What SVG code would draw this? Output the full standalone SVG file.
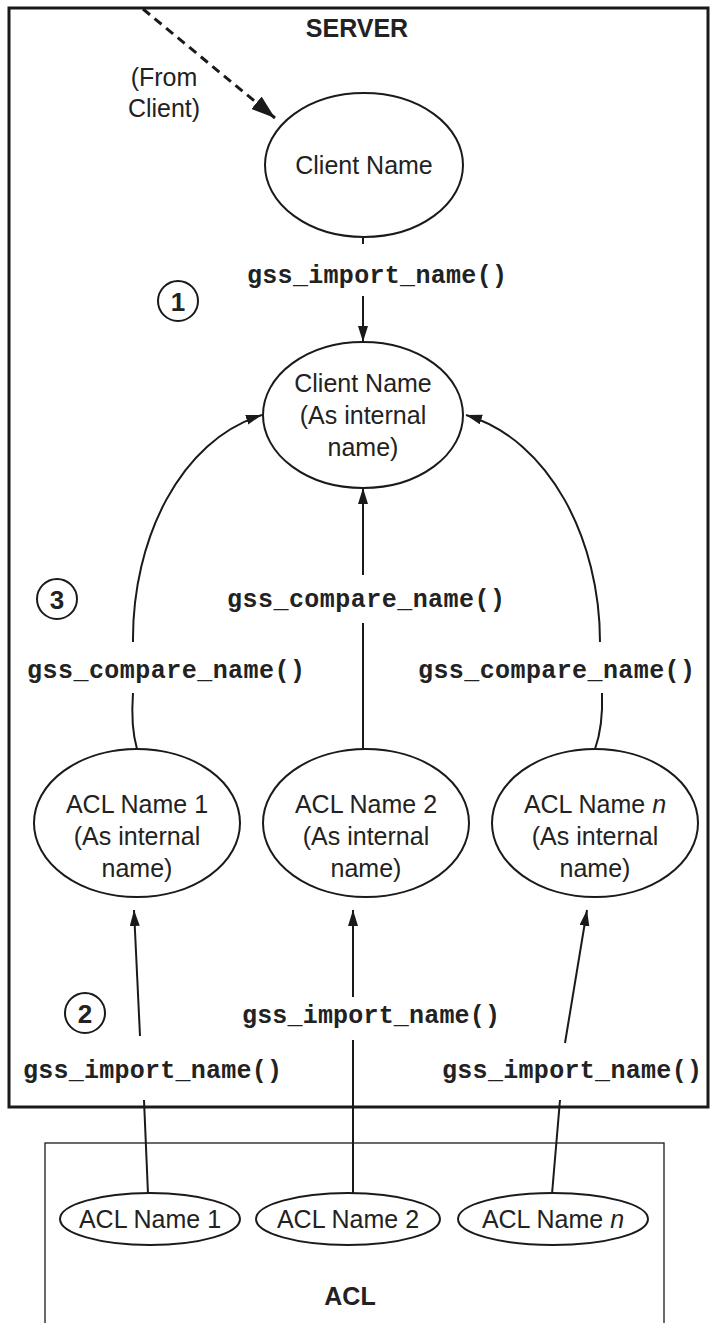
<svg xmlns="http://www.w3.org/2000/svg" width="711" height="1323" viewBox="0 0 711 1323">
<defs>
<style>
.t{font-family:"Liberation Sans",Arial,sans-serif;font-size:25px;fill:#222;text-anchor:middle}
.b{font-weight:bold}
.m{font-family:"Liberation Mono","Courier New",monospace;font-size:25px;font-weight:bold;fill:#222}
.n{fill:#fff;stroke:#1a1a1a;stroke-width:2}
.c{fill:none;stroke:#1a1a1a;stroke-width:2}
.d{font-family:"Liberation Sans",Arial,sans-serif;font-size:25px;font-weight:bold;fill:#222;text-anchor:middle}
</style>
<marker id="ah" markerUnits="userSpaceOnUse" markerWidth="18" markerHeight="12" refX="16" refY="5" orient="auto">
<path d="M0,0 L16,5 L0,10 z" fill="#1a1a1a"/>
</marker>
<marker id="ahd" markerUnits="userSpaceOnUse" markerWidth="26" markerHeight="20" refX="24" refY="8" orient="auto">
<path d="M0,0 L24,8 L0,16 z" fill="#1a1a1a"/>
</marker>
</defs>
<rect width="711" height="1323" fill="#fff"/>

<g id="server">
<rect x="9" y="8" width="699" height="1099" fill="none" stroke="#1a1a1a" stroke-width="3"/>
<text class="t b" x="357" y="37">SERVER</text>
</g>

<g id="acl">
<rect x="45" y="1143" width="619" height="200" fill="none" stroke="#1a1a1a" stroke-width="1.3"/>
<text class="t b" x="350" y="1305">ACL</text>
</g>

<g id="from-client">
<text class="t" x="164" y="86">(From</text>
<text class="t" x="164" y="117">Client)</text>
</g>

<g id="connectors">
<line x1="143" y1="9" x2="275" y2="118" stroke="#1a1a1a" stroke-width="3" stroke-dasharray="9 6" marker-end="url(#ahd)"/>
<line class="c" x1="363" y1="237" x2="363" y2="244"/>
<line class="c" x1="363" y1="296" x2="363" y2="342" marker-end="url(#ah)"/>
<path class="c" d="M133,642 C132,540 180,440 262,415" marker-end="url(#ah)"/>
<path class="c" d="M133,693 C131,720 133,735 137,749"/>
<path class="c" d="M600,642 C600,540 550,440 466,415" marker-end="url(#ah)"/>
<path class="c" d="M602,693 C603,720 600,735 595,749"/>
<line class="c" x1="363" y1="575" x2="363" y2="488" marker-end="url(#ah)"/>
<line class="c" x1="363" y1="749" x2="363" y2="623"/>
<line class="c" x1="140" y1="1036" x2="134" y2="910" marker-end="url(#ah)"/>
<line class="c" x1="353" y1="997" x2="353" y2="910" marker-end="url(#ah)"/>
<line class="c" x1="565" y1="1043" x2="587" y2="910" marker-end="url(#ah)"/>
<line class="c" x1="144" y1="1100" x2="148" y2="1194"/>
<line class="c" x1="353" y1="1040" x2="353" y2="1194"/>
<line class="c" x1="560" y1="1100" x2="552" y2="1194"/>
</g>

<g id="labels">
<text class="m" x="247" y="283" textLength="260" lengthAdjust="spacing">gss_import_name()</text>
<text class="m" x="227" y="607" textLength="278" lengthAdjust="spacing">gss_compare_name()</text>
<text class="m" x="27" y="678" textLength="278" lengthAdjust="spacing">gss_compare_name()</text>
<text class="m" x="418" y="678" textLength="277" lengthAdjust="spacing">gss_compare_name()</text>
<text class="m" x="242" y="1023" textLength="258" lengthAdjust="spacing">gss_import_name()</text>
<text class="m" x="23" y="1078" textLength="259" lengthAdjust="spacing">gss_import_name()</text>
<text class="m" x="442" y="1078" textLength="260" lengthAdjust="spacing">gss_import_name()</text>
</g>

<g id="step1">
<circle class="c" cx="178" cy="301" r="20"/>
<text class="d" x="178" y="311" style="font-size:26px">1</text>
</g>
<g id="step3">
<circle class="c" cx="57" cy="599" r="20"/>
<text class="d" x="57" y="609" style="font-size:26px">3</text>
</g>
<g id="step2">
<circle class="c" cx="85" cy="1013" r="20"/>
<text class="d" x="85" y="1023" style="font-size:26px">2</text>
</g>

<g id="client-name">
<ellipse class="n" cx="364" cy="165" rx="99" ry="72"/>
<text class="t" x="364" y="174">Client Name</text>
</g>

<g id="client-internal">
<ellipse class="n" cx="363" cy="415" rx="100" ry="73"/>
<text class="t" x="363" y="392">Client Name</text>
<text class="t" x="363" y="424">(As internal</text>
<text class="t" x="363" y="456">name)</text>
</g>

<g id="acl1-internal">
<ellipse class="n" cx="137" cy="823" rx="103" ry="74"/>
<text class="t" x="137" y="813">ACL Name 1</text>
<text class="t" x="137" y="845">(As internal</text>
<text class="t" x="137" y="877">name)</text>
</g>
<g id="acl2-internal">
<ellipse class="n" cx="366" cy="823" rx="103" ry="74"/>
<text class="t" x="366" y="813">ACL Name 2</text>
<text class="t" x="366" y="845">(As internal</text>
<text class="t" x="366" y="877">name)</text>
</g>
<g id="acln-internal">
<ellipse class="n" cx="595" cy="823" rx="103" ry="74"/>
<text class="t" x="595" y="813">ACL Name <tspan font-style="italic">n</tspan></text>
<text class="t" x="595" y="845">(As internal</text>
<text class="t" x="595" y="877">name)</text>
</g>

<g id="acl1">
<ellipse class="n" cx="150" cy="1219" rx="90" ry="26"/>
<text class="t" x="150" y="1228">ACL Name 1</text>
</g>
<g id="acl2">
<ellipse class="n" cx="348" cy="1219" rx="92" ry="26"/>
<text class="t" x="348" y="1228">ACL Name 2</text>
</g>
<g id="acln">
<ellipse class="n" cx="553" cy="1219" rx="95" ry="26"/>
<text class="t" x="553" y="1228">ACL Name <tspan font-style="italic">n</tspan></text>
</g>
</svg>
